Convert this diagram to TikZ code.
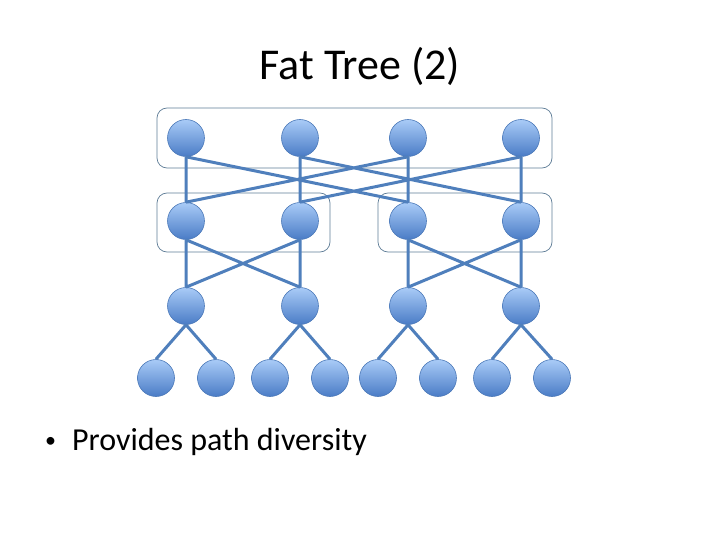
\documentclass[tikz,border=0pt]{standalone}
\usepackage{fontspec}
\setmainfont{Carlito}
\definecolor{linkc}{HTML}{4F7FBC}
\definecolor{circtop}{HTML}{A9CBF7}
\definecolor{circbot}{HTML}{4A7CC6}
\definecolor{circedge}{HTML}{4A78B8}
\definecolor{boxc}{HTML}{5E7C96}
\begin{document}
\begin{tikzpicture}[x=1pt,y=-1pt,
  sw/.style={circle,minimum size=37pt,inner sep=0pt,draw=circedge,line width=0.6pt,top color=circtop,bottom color=circbot},
  link/.style={draw=linkc,line width=3pt},
  grp/.style={draw=boxc,line width=0.7pt,rounded corners=10pt}]
\useasboundingbox (0,0) rectangle (720,540);
\node[anchor=base,font=\fontsize{44}{52}\selectfont,inner sep=0pt] (title) at (360,80) {Fat Tree (2)};
\node[anchor=base west,font=\fontsize{32}{38}\selectfont,inner sep=0pt] (bul) at (45,450) {\raisebox{3pt}{\fontsize{22}{22}\selectfont\textbullet}\hspace{16pt}Provides path diversity};
% group boxes
\draw[grp] (157,108) rectangle (552,168);
\draw[grp] (157,193) rectangle (330,252);
\draw[grp] (378,193) rectangle (552,252);
% switches
\foreach \n/\x in {1/186,2/300,3/408,4/521}{
  \node[sw] (T\n) at (\x,138) {};
  \node[sw] (M\n) at (\x,221) {};
  \node[sw] (A\n) at (\x,306) {};
}
\foreach \n/\x in {1/156,2/216,3/270,4/330,5/378,6/438,7/492,8/552}{
  \node[sw] (H\n) at (\x,378) {};
}
% links
\draw[link] (T1.south)--(M1.north) (T1.south)--(M3.north) (T2.south)--(M2.north) (T2.south)--(M4.north)
            (T3.south)--(M1.north) (T3.south)--(M3.north) (T4.south)--(M2.north) (T4.south)--(M4.north);
\draw[link] (M1.south)--(A1.north) (M1.south)--(A2.north) (M2.south)--(A1.north) (M2.south)--(A2.north)
            (M3.south)--(A3.north) (M3.south)--(A4.north) (M4.south)--(A3.north) (M4.south)--(A4.north);
\draw[link] (A1.south)--(H1.north) (A1.south)--(H2.north) (A2.south)--(H3.north) (A2.south)--(H4.north)
            (A3.south)--(H5.north) (A3.south)--(H6.north) (A4.south)--(H7.north) (A4.south)--(H8.north);
\end{tikzpicture}
\end{document}
